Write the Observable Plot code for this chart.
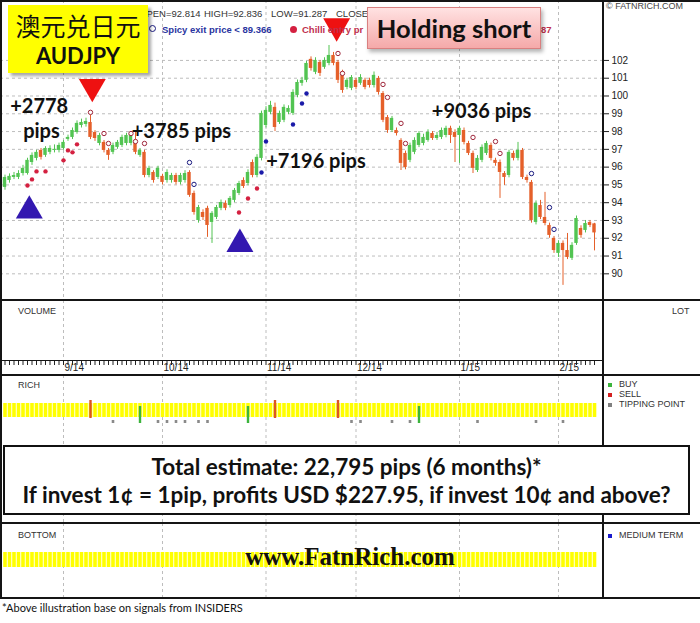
<!DOCTYPE html>
<html><head><meta charset="utf-8">
<script src="https://cdn.jsdelivr.net/npm/d3@7"></script>
<script src="https://cdn.jsdelivr.net/npm/@observablehq/plot@0.6"></script>
<style>
body{margin:0;background:#fff;}
#wrap{position:relative;width:700px;height:623px;overflow:hidden;font-family:"Liberation Sans",Arial,sans-serif;color:#333;background:#fff;}
.panel{position:absolute;left:0;}
.panel svg{display:block;overflow:visible;}
.hl{position:absolute;left:0;width:700px;height:2px;background:#151515;}
.vl{position:absolute;top:0;width:2px;height:599px;background:#151515;}
.lbl{position:absolute;font-size:9px;color:#333;white-space:nowrap;line-height:1;}
.sq{position:absolute;width:4px;height:4px;}
.hdr{position:absolute;top:9px;font-size:9.5px;color:#333;white-space:nowrap;line-height:1;}
</style></head>
<body>
<div id="wrap">
  <div id="p1" class="panel" style="top:0"></div>
  <div id="p2" class="panel" style="top:300px"></div>
  <div id="p3" class="panel" style="top:375px"></div>
  <div id="p4" class="panel" style="top:523px"></div>

  <div class="hl" style="top:0"></div>
  <div class="hl" style="top:299px"></div>
  <div class="hl" style="top:374px"></div>
  <div class="hl" style="top:522px"></div>
  <div class="hl" style="top:597px"></div>
  <div class="vl" style="left:0"></div>
  <div class="vl" style="left:602px"></div>
  <div style="position:absolute;left:0;top:360px;width:603px;height:1px;background:#151515"></div>

  <!-- header values -->
  <div class="hdr" style="left:139px">OPEN=92.814</div>
  <div class="hdr" style="left:204px">HIGH=92.836</div>
  <div class="hdr" style="left:271px">LOW=91.287</div>
  <div class="hdr" style="left:336px">CLOSE</div>
  <div class="hdr" style="top:25px;left:149px;color:#2a34a0;font-weight:bold"><span style="display:inline-block;width:5px;height:5px;border:1px solid #1a1a80;border-radius:50%;margin-right:6px;vertical-align:1px"></span>Spicy exit price &lt; 89.366</div>
  <div class="hdr" style="top:25px;left:290px;width:76px;overflow:hidden;color:#c0304e;font-weight:bold"><span style="display:inline-block;width:7px;height:7px;background:#d42040;border-radius:50%;margin-right:5px;vertical-align:0px"></span>Chilli entry pr</div>
  <div class="hdr" style="top:25px;left:541px;color:#c0304e;font-weight:bold">87</div>
  <div class="lbl" style="left:606px;top:2px;color:#444">© FATNRICH.COM</div>

  <!-- yellow title box -->
  <div style="position:absolute;left:8px;top:5px;width:140px;height:68px;background:#ffff00;box-shadow:3px 3px 3px rgba(0,0,0,0.35);text-align:center">
    <div style="font-family:'Noto Sans CJK SC';font-size:25px;line-height:1;margin-top:8px;color:#111">澳元兑日元</div>
    <div style="font-family:Lato,'Liberation Sans';font-weight:bold;font-size:22px;line-height:1;margin-top:7px;color:#111">AUDJPY</div>
  </div>

  <!-- holding short box -->
  <div style="position:absolute;left:367px;top:7px;width:172px;height:40px;background:linear-gradient(#ffe2e2,#f5a9a9);border:1px solid #d98080;box-shadow:2px 3px 4px rgba(0,0,0,0.3);text-align:center;font-family:Lato;font-weight:bold;font-size:25.5px;line-height:40px;color:#111">Holding short</div>

  <!-- panel labels -->
  <div class="lbl" style="left:18px;top:307px">VOLUME</div>
  <div class="lbl" style="left:672px;top:307px">LOT</div>
  <div class="lbl" style="left:18px;top:381px">RICH</div>
  <div class="lbl" style="left:18px;top:531px">BOTTOM</div>
  <div class="sq" style="left:608px;top:383px;background:#3cb43c"></div>
  <div class="lbl" style="left:619px;top:380px">BUY</div>
  <div class="sq" style="left:608px;top:393px;background:#d42020"></div>
  <div class="lbl" style="left:619px;top:390px">SELL</div>
  <div class="sq" style="left:608px;top:403px;background:#808080"></div>
  <div class="lbl" style="left:619px;top:400px">TIPPING POINT</div>
  <div class="sq" style="left:608px;top:534px;background:#1a1acc"></div>
  <div class="lbl" style="left:619px;top:531px">MEDIUM TERM</div>

  <!-- total estimate box -->
  <div style="position:absolute;left:3px;top:445px;width:683px;background:#fff;border:2px solid #111;text-align:center;font-family:Lato;font-weight:bold;font-size:22.5px;color:#111;line-height:28px;padding-top:6px;box-sizing:content-box;height:60px;white-space:nowrap">
    <div>Total estimate: 22,795 pips (6 months)*</div>
    <div>If invest 1¢ = 1pip, profits USD $227.95, if invest 10¢ and above?</div>
  </div>

  <div style="position:absolute;left:0;width:700px;top:543px;text-align:center;font-family:'Liberation Serif';font-weight:bold;font-size:25px;line-height:28px;color:#111">www.FatnRich.com</div>

  <div style="position:absolute;left:2px;top:601px;font-family:Lato;font-size:11px;color:#111;white-space:nowrap">*Above illustration base on signals from INSIDERS</div>
</div>

<script>
// ---- data (AUD/JPY daily candles, trading-day index 0..131) ----
const open = [94.86,95.25,95.42,95.42,95.64,95.64,96.26,96.49,96.94,96.66,
96.83,96.94,96.94,97.05,97.56,97.67,97.95,98.34,98.40,98.51,
97.95,97.33,97.39,96.94,96.83,97.11,97.22,97.33,97.33,97.39,
96.66,96.83,95.53,95.70,95.42,95.48,95.25,95.25,95.53,95.14,
95.25,95.70,94.52,93.00,93.45,93.68,92.89,93.17,93.68,93.96,
93.84,94.13,94.52,95.25,95.08,96.26,95.53,96.49,98.34,99.08,
99.36,98.51,98.63,99.08,99.02,100.03,100.71,100.88,102.06,101.33,
101.89,101.61,101.83,102.28,101.89,101.33,100.48,100.43,100.88,100.71,
100.88,100.88,100.59,100.99,100.14,98.79,98.06,98.06,97.50,96.77,
96.38,96.83,97.22,97.33,97.50,97.89,97.61,97.67,97.78,98.18,
97.95,97.78,98.06,97.33,96.77,95.81,96.38,96.77,97.22,96.38,
96.26,95.64,95.53,96.77,96.49,96.94,95.42,95.14,92.89,93.84,
93.17,92.72,91.99,91.15,91.71,91.31,90.87,91.71,92.55,92.44,
92.89,92.81];
const high = [95.55,95.62,95.70,95.80,96.10,96.50,96.80,96.95,97.05,97.15,
97.20,97.25,97.35,97.50,97.80,98.20,98.60,98.70,98.75,98.91,
98.05,97.90,97.50,97.05,97.35,97.50,97.80,97.90,98.00,97.95,
97.05,96.95,96.05,95.80,96.05,95.60,95.85,95.65,95.65,95.65,
95.80,95.80,94.65,93.85,93.60,93.80,93.50,93.85,94.15,94.10,
94.35,94.80,95.20,95.40,95.85,96.40,96.70,99.15,99.40,99.70,
99.60,99.15,99.50,99.45,100.35,100.90,101.05,101.95,102.20,102.15,
102.00,102.15,102.84,102.45,102.00,101.45,101.00,101.15,101.00,101.20,
101.00,101.00,101.35,101.10,100.25,98.90,98.85,98.20,97.60,96.90,
97.35,97.65,98.00,97.85,98.10,98.00,97.95,98.20,98.30,98.30,
98.10,98.30,98.20,97.45,96.90,96.65,97.25,97.45,97.35,96.50,
96.40,95.75,96.95,96.90,97.39,97.05,95.55,95.25,94.10,94.13,
94.58,92.85,92.10,91.85,91.85,92.27,91.75,93.25,92.70,93.00,
93.00,92.84];
const low = [94.70,95.10,95.30,95.30,95.50,95.55,96.10,96.35,96.40,96.55,
96.70,96.80,96.80,96.95,97.45,97.55,97.85,98.20,98.25,97.55,
97.45,97.20,96.80,96.38,96.70,97.00,97.10,97.20,97.20,96.70,
96.55,95.40,95.40,95.10,95.30,95.00,95.10,95.10,95.00,95.00,
95.10,94.30,93.30,92.85,93.00,92.05,91.71,93.05,93.55,93.55,
93.70,94.00,94.40,94.80,94.95,95.40,95.40,96.35,98.20,98.95,
98.00,98.40,98.50,98.95,98.90,99.90,100.55,100.75,101.40,101.20,
101.10,101.50,101.70,101.70,100.70,100.15,100.35,100.30,100.35,100.60,
100.35,100.45,100.45,100.05,98.50,97.90,97.95,97.75,95.81,95.85,
96.25,96.70,97.10,97.20,97.40,97.50,97.50,97.55,97.65,97.33,
96.26,96.21,97.25,96.65,95.64,95.70,96.25,96.65,96.35,96.05,
94.24,94.97,95.40,96.35,96.35,95.30,95.10,92.85,92.75,93.05,
92.70,92.00,91.15,90.92,89.35,90.80,90.75,91.60,92.00,92.30,
92.60,91.29];
const close = [95.42,95.48,95.53,95.64,95.93,96.38,96.66,96.83,96.55,97.05,
97.05,97.00,97.22,97.39,97.67,98.06,98.46,98.51,98.57,97.67,
97.61,97.78,96.94,96.66,97.22,97.39,97.67,97.78,97.89,96.83,
96.94,95.53,95.93,95.25,95.93,95.14,95.70,95.53,95.14,95.53,
95.64,94.41,93.45,93.73,93.17,92.72,93.40,93.73,94.01,93.68,
94.24,94.69,95.08,94.91,95.70,95.53,96.55,99.02,99.19,99.47,
98.23,99.02,99.36,99.30,100.20,100.76,100.88,101.83,101.55,102.00,
101.27,102.00,102.28,101.83,100.88,100.31,100.88,101.04,100.48,101.04,
100.48,100.59,101.16,100.20,98.63,98.06,98.74,97.89,96.21,95.98,
97.22,97.50,97.89,97.67,97.95,97.61,97.78,98.06,98.18,97.78,
97.67,98.18,97.39,96.77,95.93,96.49,97.11,97.33,96.49,96.21,
95.70,95.42,96.83,96.49,96.94,95.42,95.25,93.00,93.96,93.17,
92.83,92.16,91.31,91.71,91.31,90.92,91.60,93.11,92.16,92.83,
92.72,92.30];

// axis ticks & months
const yTicks = [90,91,92,93,94,95,96,97,98,99,100,101,102];
const monthIdx = [13,35,58,78,101,123];
const monthLabels = ["9/14","10/14","11/14","12/14","1/15","2/15"];

// signal dots on the price chart
const chilliIdx = [5,6,7,9,13,14,15,16,52,54,56];
const chilliVal = [94.97,95.31,95.76,95.76,96.38,96.94,96.83,97.28,93.45,94.24,94.80];
const blueIdx = [57,58,64,66,67];
const blueVal = [95.70,97.44,98.40,99.58,100.14];
const spicyRedIdx = [19,22,23,28,29,31,74,75,84,85,88,89,104,109,110];
const spicyRedVal = [99.08,97.89,97.33,97.89,97.44,97.33,102.39,101.27,100.65,99.92,98.46,97.33,97.67,97.44,96.77];
const spicyBlueIdx = [41,42,117,121,122];
const spicyBlueVal = [96.26,95.03,95.64,93.73,92.50];

// big buy / sell arrows
const buyArrowIdx = [5.4, 52.2];
const buyArrowVal = [93.55, 91.67];
const sellArrowIdx = [19.4, 73.7];
const sellArrowVal = [100.52, 103.93];

// profit annotations
const pipLabels = ["+2778", "pips", "+3785 pips", "+7196 pips", "+9036 pips"];
const pipIdx = [7.6, 8.1, 39.2, 69.1, 105.9];
const pipVal = [99.42, 98.02, 98.01, 96.32, 99.13];

// RICH panel signals
const richBuy = [30, 54, 92];
const richSell = [19, 60, 74];
const richTip = [24,34,36,38,40,43,45,77,79,86,90,105,118,124];

// ---- build ----
const N = open.length;
const dayIdx = d3.range(N);
const candles = dayIdx.map(i => ({i, o: open[i], h: high[i], l: low[i], c: close[i]}));
const up = candles.filter(d => d.c >= d.o), dn = candles.filter(d => d.c < d.o);
const pts = (a, b) => a.map((x, k) => ({i: x, p: b[k]}));
const GREEN = "#52c452", ORANGE = "#e5602a", GRID = "#bdbdbd";
const xs = {domain: [-1, 133]};
const base = {width: 700, marginLeft: 0, marginRight: 97, marginTop: 0,
  style: {background: "transparent", fontFamily: "Liberation Sans, Arial, sans-serif", fontSize: "10px", color: "#222", overflow: "visible"}};
const grid = Plot.ruleX(monthIdx, {stroke: GRID, strokeDasharray: "3,3"});

const p1 = Plot.plot({...base, height: 300, marginBottom: 0,
  x: {...xs, axis: null},
  y: {domain: [88.5, 105.37]},
  marks: [
    Plot.ruleY(yTicks, {stroke: GRID, strokeDasharray: "3,3"}),
    grid,
    Plot.axisY({anchor: "right", ticks: yTicks, tickSize: 5, tickPadding: 3, label: null, fontSize: 10}),
    Plot.ruleX(up, {x: "i", y1: "l", y2: "h", stroke: GREEN}),
    Plot.ruleX(dn, {x: "i", y1: "l", y2: "h", stroke: ORANGE}),
    Plot.rect(up, {x1: d => d.i - 0.38, x2: d => d.i + 0.38, y1: "o", y2: "c", fill: GREEN}),
    Plot.rect(dn, {x1: d => d.i - 0.38, x2: d => d.i + 0.38, y1: "o", y2: "c", fill: ORANGE}),
    Plot.dot(pts(chilliIdx, chilliVal), {x: "i", y: "p", r: 2.2, fill: "#d42040"}),
    Plot.dot(pts(blueIdx, blueVal), {x: "i", y: "p", r: 2.2, fill: "#1a1aa8"}),
    Plot.dot(pts(spicyRedIdx, spicyRedVal), {x: "i", y: "p", r: 2.2, fill: "#fff", stroke: "#a0283c", strokeWidth: 1}),
    Plot.dot(pts(spicyBlueIdx, spicyBlueVal), {x: "i", y: "p", r: 2.2, fill: "#fff", stroke: "#1a1a80", strokeWidth: 1}),
    Plot.dot(pts(buyArrowIdx, buyArrowVal), {x: "i", y: "p", symbol: "triangle", r: 10, fill: "#3318b0"}),
    Plot.dot(pts(sellArrowIdx, sellArrowVal), {x: "i", y: "p", symbol: "triangle", r: 10, rotate: 180, fill: "#ee1111"}),
    Plot.text(pipLabels.map((t, k) => ({t, i: pipIdx[k], p: pipVal[k]})), {x: "i", y: "p", text: "t",
      fontSize: 20, fontWeight: "bold", fontFamily: "Lato", fill: "#111"})
  ]});
document.getElementById("p1").append(p1);

const labelOf = new Map(monthIdx.map((d, k) => [d, monthLabels[k]]));
const p2 = Plot.plot({...base, height: 75, marginBottom: 14,
  x: xs,
  marks: [
    grid,
    Plot.axisX({ticks: dayIdx, tickSize: 4, tickFormat: () => "", label: null}),
    Plot.axisX({ticks: monthIdx, tickSize: 0, tickPadding: 2, tickFormat: d => labelOf.get(d),
      textAnchor: "start", dx: 1, fontSize: 10, label: null})
  ]});
document.getElementById("p2").append(p2);

const p3 = Plot.plot({...base, height: 148, marginBottom: 0,
  x: {...xs, axis: null},
  marks: [
    grid,
    Plot.ruleX(dayIdx, {stroke: "#ffff00", strokeWidth: 3.6, insetTop: 28, insetBottom: 106}),
    Plot.ruleX(richSell, {stroke: "#dd5522", strokeWidth: 2.4, insetTop: 25, insetBottom: 105}),
    Plot.ruleX(richBuy, {stroke: "#3cb43c", strokeWidth: 2.4, insetTop: 31, insetBottom: 100}),
    Plot.ruleX(richTip, {stroke: "#8a8a8a", strokeWidth: 2.6, insetTop: 45, insetBottom: 100})
  ]});
document.getElementById("p3").append(p3);

const p4 = Plot.plot({...base, height: 75, marginBottom: 0,
  x: {...xs, axis: null},
  marks: [
    grid,
    Plot.ruleX(dayIdx, {stroke: "#ffff00", strokeWidth: 3.6, insetTop: 29, insetBottom: 31})
  ]});
document.getElementById("p4").append(p4);
</script>
</body></html>
